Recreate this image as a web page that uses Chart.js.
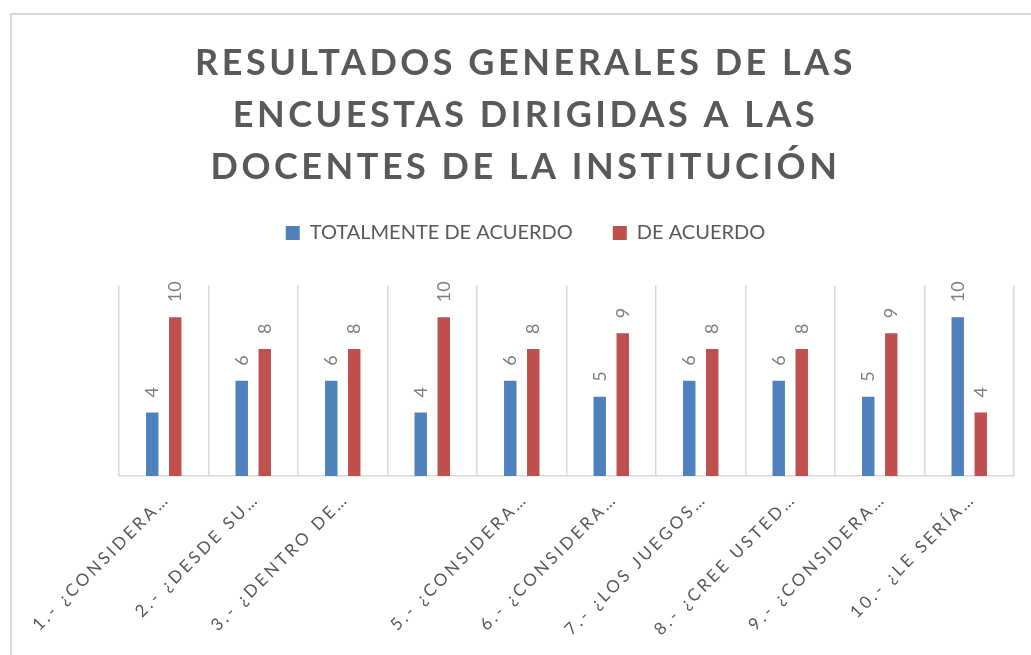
<!DOCTYPE html>
<html><head><meta charset="utf-8">
<script src="https://cdn.jsdelivr.net/npm/chart.js@4"></script>
<style>
html,body{margin:0;padding:0;background:#fff;overflow:hidden;}
#frame{position:absolute;left:10px;top:13px;width:1100px;height:700px;border-left:2px solid #d9d9d9;border-top:2px solid #d9d9d9;}
#c{position:absolute;left:0;top:0;}
</style></head><body>
<div id="frame"></div>
<canvas id="c" width="1031" height="655"></canvas>
<script>
const TITLE_LINES = ['RESULTADOS GENERALES DE LAS', 'ENCUESTAS DIRIGIDAS A LAS', 'DOCENTES DE LA INSTITUCIÓN'];
const CATEGORIES = [
  '1.- ¿CONSIDERA…', '2.- ¿DESDE SU…', '3.- ¿DENTRO DE…', '',
  '5.- ¿CONSIDERA…', '6.- ¿CONSIDERA…', '7.- ¿LOS JUEGOS…',
  '8.- ¿CREE USTED…', '9.- ¿CONSIDERA…', '10.- ¿LE SERÍA…'
];
const SERIES_NAMES = ['TOTALMENTE DE ACUERDO', 'DE ACUERDO'];
const TOTALMENTE_DE_ACUERDO = [4, 6, 6, 4, 6, 5, 6, 6, 5, 10];
const DE_ACUERDO = [10, 8, 8, 10, 8, 9, 8, 8, 9, 4];
const Y_MIN = 0;
const Y_MAX = 12;

const BLUE = '#4F81BD';
const RED = '#C0504D';
const TEXT = '#595959';
const GRID = '#d9d9d9';

function wrapSpacing(obj, name, sp) {
  if (!obj || obj['_w_' + name]) return;
  const orig = obj[name];
  obj[name] = function (...a) {
    const c = this.ctx;
    const p = c.letterSpacing;
    c.letterSpacing = sp;
    try { return orig.apply(this, a); } finally { c.letterSpacing = p; }
  };
  obj['_w_' + name] = true;
}

const helperPlugin = {
  id: 'helper',
  beforeLayout(chart) {
    const lg = chart.legend;
    if (lg && !lg._patchedFit) {
      const f = lg.fit;
      lg.fit = function () { f.call(this); if (this.options.display) this.height += 32.5; };
      lg._patchedFit = true;
    }
  },
  beforeDraw(chart) {
    wrapSpacing(chart.titleBlock, 'draw', '3.5px');
    wrapSpacing(chart.scales.x, 'drawLabels', '3px');
  },
  afterDatasetsDraw(chart) {
    const ctx = chart.ctx;
    chart.data.datasets.forEach((ds, i) => {
      const meta = chart.getDatasetMeta(i);
      meta.data.forEach((bar, j) => {
        ctx.save();
        ctx.translate(bar.x, bar.y - 15);
        ctx.rotate(-Math.PI / 2);
        ctx.font = '18px Lato';
        ctx.fillStyle = '#7f7f7f';
        ctx.textAlign = 'left';
        ctx.textBaseline = 'middle';
        ctx.fillText(String(ds.data[j]), 0, 0);
        ctx.restore();
      });
    });
  }
};

new Chart(document.getElementById('c'), {
  type: 'bar',
  data: {
    labels: CATEGORIES,
    datasets: [
      { label: SERIES_NAMES[0], data: TOTALMENTE_DE_ACUERDO, backgroundColor: BLUE, borderWidth: 0 },
      { label: SERIES_NAMES[1], data: DE_ACUERDO, backgroundColor: RED, borderWidth: 0 }
    ]
  },
  options: {
    responsive: false,
    animation: false,
    devicePixelRatio: 1,
    categoryPercentage: 0.514,
    barPercentage: 0.54,
    layout: { padding: { left: 20, right: 0, top: 0, bottom: 0 } },
    plugins: {
      title: {
        display: true,
        text: TITLE_LINES,
        color: TEXT,
        font: { family: 'Lato', size: 36, weight: 'bold', lineHeight: 52 / 36 },
        padding: { top: 37, bottom: -10 }
      },
      legend: {
        display: true,
        position: 'top',
        labels: {
          color: TEXT,
          font: { family: 'Lato', size: 20 },
          boxWidth: 14,
          boxHeight: 14,
          padding: 40
        }
      },
      tooltip: { enabled: false }
    },
    scales: {
      x: {
        grid: { display: true, color: GRID, lineWidth: 1.5, drawTicks: false, offset: true },
        border: { display: true, color: GRID, width: 1.5 },
        ticks: {
          color: TEXT,
          font: { family: 'Lato', size: 17 },
          minRotation: 45,
          maxRotation: 45,
          autoSkip: false,
          padding: 13,
          labelOffset: 3
        },
        afterFit(s) { s.height = 179; }
      },
      y: {
        position: 'left',
        min: Y_MIN,
        max: Y_MAX,
        grid: { display: false },
        border: { display: false },
        ticks: { display: false },
        afterFit(s) { s.width = 99; }
      },
      y2: {
        position: 'right',
        min: Y_MIN,
        max: Y_MAX,
        grid: { display: false },
        border: { display: false },
        ticks: { display: false },
        afterFit(s) { s.width = 17; }
      }
    }
  },
  plugins: [helperPlugin]
});
</script>
</body></html>
